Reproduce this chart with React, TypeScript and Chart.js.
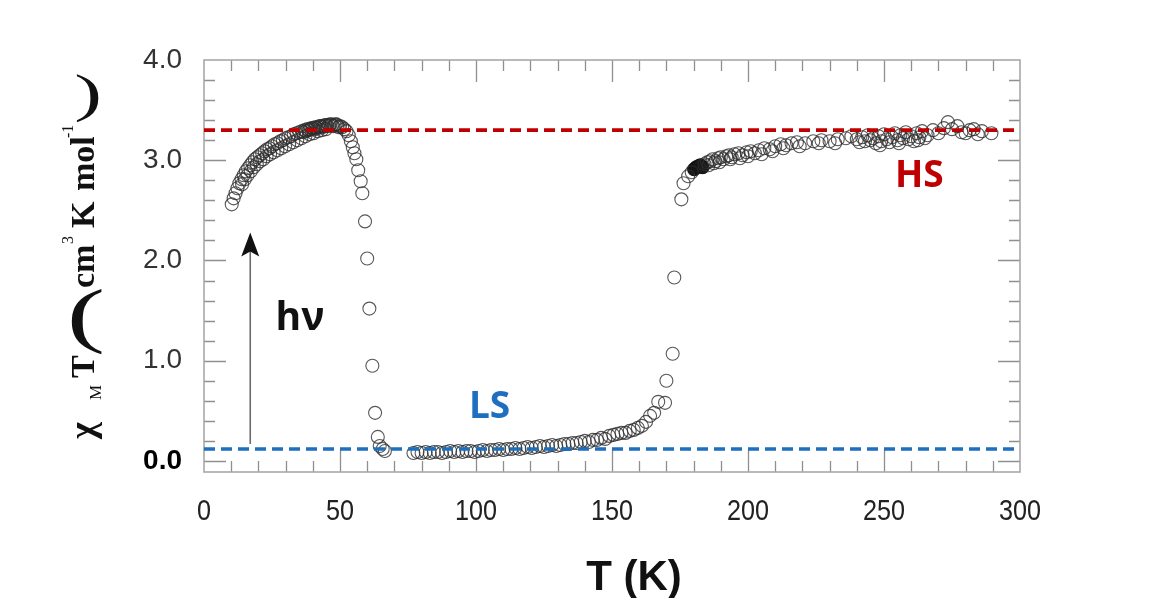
import React, { useEffect, useRef } from "react";
import { Chart, registerables } from "chart.js";

Chart.register(...registerables);

// ---- axis ticks / reference levels ----
const xTickValues = [0, 50, 100, 150, 200, 250, 300];
const yTickValues = [0, 1, 2, 3, 4];
const hsLevel = 3.3;
const lsLevel = 0.12;

// ---- photo-excited branch (after irradiation, hv) ----
const photoT = [
  10.2, 10.9, 11.6, 12.3, 13.0, 13.8, 14.6, 15.4, 16.2, 17.0, 17.8, 18.7, 19.6, 20.5, 21.4, 22.3,
  23.2, 24.1, 25.0, 26.0, 27.0, 28.0, 29.0, 30.0, 31.0, 32.0, 33.0, 34.0, 35.0, 36.0, 36.5, 37.0,
  37.5, 38.0, 38.5, 39.0, 39.5, 40.0, 40.5, 41.0, 41.5, 42.0, 42.5, 43.0, 43.5, 44.0, 44.5, 45.0,
  45.5, 46.0, 46.5, 47.0, 47.5, 48.0, 48.5, 49.0, 49.5, 50.0, 50.8, 51.6, 52.4, 53.2, 54.0, 54.7,
  55.3, 56.0, 56.7, 57.6, 58.2, 59.2, 60.0, 60.8, 61.9, 62.9, 63.9, 64.6, 65.7, 66.5,
];
const photoChi = [
  2.56, 2.62, 2.67, 2.72, 2.77, 2.81, 2.85, 2.89, 2.92, 2.95, 2.98, 3.01, 3.03, 3.05, 3.07, 3.09,
  3.11, 3.12, 3.14, 3.16, 3.17, 3.19, 3.2, 3.22, 3.23, 3.24, 3.26, 3.27, 3.28, 3.29, 3.28, 3.3,
  3.29, 3.31, 3.3, 3.31, 3.32, 3.32, 3.31, 3.33, 3.32, 3.33, 3.34, 3.34, 3.33, 3.34, 3.35, 3.35,
  3.34, 3.35, 3.36, 3.35, 3.34, 3.35, 3.36, 3.35, 3.33, 3.34, 3.33, 3.31, 3.29, 3.25, 3.19, 3.13,
  3.07, 3.01, 2.9, 2.79, 2.67, 2.39, 2.02, 1.52, 0.95, 0.48, 0.24, 0.15, 0.12, 0.1,
];
// second, slightly lower sweep of the same branch
const photo2T = [
  14.0, 15.0, 16.0, 17.2, 18.3, 19.4, 20.6, 21.8, 23.0, 24.3, 25.6, 27.0, 28.4, 29.8, 31.3, 32.8,
  34.3, 35.8, 37.3, 38.8, 40.3, 41.8, 43.3, 44.8,
];
const photo2Chi = [
  2.76, 2.81, 2.85, 2.89, 2.93, 2.96, 2.99, 3.01, 3.04, 3.06, 3.08, 3.1, 3.12, 3.14, 3.16, 3.18,
  3.2, 3.22, 3.24, 3.26, 3.27, 3.29, 3.3, 3.31,
];

// ---- thermal low-spin branch and transition ----
const lsT = [
  77, 78.5, 80, 81.5, 83, 84.5, 86, 87.5, 89, 90.5, 92, 93.5, 95, 96.5, 98, 99.5, 101, 102.5, 104,
  105.5, 107, 108.5, 110, 111.5, 113, 114.5, 116, 117.5, 119, 120.5, 122, 123.5, 125, 126.5, 128,
  129.5, 131, 132.5, 134, 135.5, 137, 138.5, 140, 141.5, 143, 144.5, 146, 147.5, 149, 150.5, 152,
  153.5, 155, 156.5, 158, 159.5, 161, 162.5, 164, 165.5, 167, 169.5, 170, 172.3, 172.9, 175.5, 176.3,
];
const lsChi = [
  0.08, 0.09, 0.08, 0.09, 0.08, 0.09, 0.09, 0.08, 0.09, 0.1, 0.09, 0.1, 0.09, 0.1, 0.1, 0.09, 0.1,
  0.11, 0.1, 0.11, 0.11, 0.12, 0.11, 0.12, 0.12, 0.13, 0.12, 0.13, 0.14, 0.13, 0.14, 0.15, 0.14,
  0.15, 0.16, 0.15, 0.16, 0.17, 0.17, 0.18, 0.18, 0.19, 0.2, 0.19, 0.21, 0.21, 0.23, 0.22, 0.25,
  0.26, 0.27, 0.28, 0.28, 0.3, 0.31, 0.33, 0.35, 0.39, 0.45, 0.48, 0.59, 0.58, 0.8, 1.07, 1.83,
  2.61, 2.77,
];

// ---- high-spin branch ----
const hsT = [
  178, 179.3, 184, 185, 186, 187, 188, 189, 190, 191, 192, 193, 194, 195, 196.5, 198, 199.5, 201,
  202.5, 204, 206, 208, 210, 212, 214, 216, 218, 221, 224, 227, 230, 233, 236, 238, 240, 241, 242,
  243, 244, 245, 246, 247, 248, 249, 250, 251, 252, 253, 254, 255, 256, 257, 258, 259, 260, 261,
  262, 263, 264, 266, 268, 270, 272, 273.5, 275, 277, 278.5, 280, 281.5, 283, 284.5, 286, 289.5,
  185.5, 187.5, 189.5, 193.5, 197, 200, 205, 209, 213, 219, 226, 232, 248.5, 255.5, 262.5, 265,
];
const hsChi = [
  2.84, 2.88, 2.96, 2.98, 2.99, 3.01, 2.99, 3.02, 3.03, 3.01, 3.04, 3.05, 3.03, 3.06, 3.07, 3.05,
  3.08, 3.09, 3.07, 3.1, 3.12, 3.11, 3.14, 3.16, 3.15, 3.17, 3.18, 3.17, 3.19, 3.2, 3.19, 3.21,
  3.22, 3.24, 3.21, 3.18, 3.23, 3.19, 3.25, 3.2, 3.22, 3.17, 3.24, 3.19, 3.26, 3.21, 3.18, 3.23,
  3.27, 3.2, 3.25, 3.22, 3.28, 3.21, 3.24, 3.19, 3.27, 3.23, 3.29, 3.25, 3.3, 3.27, 3.32, 3.38,
  3.31, 3.34, 3.28, 3.27, 3.3, 3.31, 3.26, 3.29, 3.27,
  2.95, 2.97, 2.98, 3.01, 3.02, 3.04, 3.06, 3.09, 3.12, 3.14, 3.17, 3.17, 3.15, 3.17, 3.2, 3.22,
];

// ---- filled (dark) points near 180 K ----
const filledT = [180.2, 181.0, 181.8, 182.5, 183.3];
const filledChi = [2.91, 2.93, 2.94, 2.95, 2.93];

const toPts = (xs: number[], ys: number[]) => xs.map((x, i) => ({ x, y: ys[i] }));

const SERIF = "'Liberation Serif', 'Times New Roman', serif";
const SANS = "'Liberation Sans', Arial, sans-serif";
const CAL = "'Open Sans', 'Noto Sans', sans-serif";

const decorPlugin = {
  id: "decor",
  beforeDatasetsDraw(chart: any) {
    const { ctx, chartArea: a, scales } = chart;
    const xs = scales.x;
    const ys = scales.y;
    ctx.save();
    // ticks (inward)
    ctx.strokeStyle = "#8f8f8f";
    ctx.lineWidth = 1.3;
    ctx.beginPath();
    for (let v = 10; v < 300; v += 10) {
      const px = Math.round(xs.getPixelForValue(v)) + 0.5;
      const len = v % 50 === 0 ? 22 : 11;
      ctx.moveTo(px, a.bottom);
      ctx.lineTo(px, a.bottom - len);
      ctx.moveTo(px, a.top);
      ctx.lineTo(px, a.top + len);
    }
    for (let k = 0; k < 20; k++) {
      const v = k * 0.2;
      const py = Math.round(ys.getPixelForValue(v)) + 0.5;
      const len = k % 5 === 0 ? 22 : 11;
      ctx.moveTo(a.left, py);
      ctx.lineTo(a.left + len, py);
      ctx.moveTo(a.right, py);
      ctx.lineTo(a.right - len, py);
    }
    ctx.stroke();
    // frame
    ctx.strokeStyle = "#a8a8a8";
    ctx.lineWidth = 1.6;
    ctx.strokeRect(a.left, a.top, a.right - a.left, a.bottom - a.top);

    // x tick labels (condensed look)
    ctx.fillStyle = "#222";
    ctx.font = `30px ${SANS}`;
    ctx.textAlign = "center";
    ctx.textBaseline = "middle";
    for (const v of xTickValues) {
      ctx.save();
      ctx.translate(xs.getPixelForValue(v), 512);
      ctx.scale(0.84, 1);
      ctx.fillText(String(v), 0, 0);
      ctx.restore();
    }
    ctx.restore();
  },
  afterDatasetsDraw(chart: any) {
    const { ctx, scales } = chart;
    const xs = scales.x;
    const ys = scales.y;
    ctx.save();
    // labels
    ctx.textAlign = "center";
    ctx.textBaseline = "middle";
    ctx.font = `bold 37px ${CAL}`;
    ctx.fillStyle = "#c00000";
    ctx.fillText("HS", xs.getPixelForValue(263), ys.getPixelForValue(2.84));
    ctx.fillStyle = "#1f6fc0";
    ctx.fillText("LS", xs.getPixelForValue(105), ys.getPixelForValue(0.53));
    ctx.fillStyle = "#111";
    ctx.font = `bold 39px ${CAL}`;
    ctx.fillText("hν", xs.getPixelForValue(35.3), ys.getPixelForValue(1.42));

    // arrow
    const ax = xs.getPixelForValue(17);
    const y0 = ys.getPixelForValue(0.17);
    const y1 = ys.getPixelForValue(2.28);
    ctx.strokeStyle = "#6a6a6a";
    ctx.lineWidth = 1.6;
    ctx.beginPath();
    ctx.moveTo(ax, y0);
    ctx.lineTo(ax, y1 + 12);
    ctx.stroke();
    ctx.fillStyle = "#111";
    ctx.beginPath();
    ctx.moveTo(ax, y1);
    ctx.lineTo(ax + 9, y1 + 24);
    ctx.lineTo(ax, y1 + 19);
    ctx.lineTo(ax - 9, y1 + 24);
    ctx.closePath();
    ctx.fill();

    // x axis title
    ctx.fillStyle = "#111";
    ctx.font = `bold 42px ${SANS}`;
    ctx.textAlign = "center";
    ctx.textBaseline = "middle";
    ctx.fillText("T (K)", 634, 578);

    // y axis title (rotated rich text)
    ctx.fillStyle = "#111";
    ctx.textAlign = "left";
    ctx.textBaseline = "alphabetic";
    const baseX = 94;
    const pieces: { t: string; at: number; size: number; dy: number; bold: boolean }[] = [
      { t: "χ", at: 439, size: 36, dy: 0, bold: true },
      { t: "M", at: 400, size: 17, dy: 7, bold: false },
      { t: "T", at: 378, size: 34, dy: 0, bold: true },
      { t: "cm", at: 288, size: 34, dy: 0, bold: true },
      { t: "3", at: 244, size: 16, dy: -21, bold: false },
      { t: "K", at: 228, size: 34, dy: 0, bold: true },
      { t: "mol", at: 191, size: 34, dy: 0, bold: true },
      { t: "-1", at: 138, size: 16, dy: -21, bold: false },
    ];
    for (const p of pieces) {
      ctx.save();
      ctx.translate(baseX, p.at);
      ctx.rotate(-Math.PI / 2);
      ctx.font = `${p.bold ? "bold " : ""}${p.size}px ${SERIF}`;
      ctx.fillText(p.t, 0, p.dy);
      ctx.restore();
    }
    // big parentheses
    const paren = (ch: string, cx: number, cy: number, h: number, sx: number) => {
      ctx.save();
      ctx.translate(cx, cy);
      ctx.scale(sx, 1);
      ctx.font = `${h}px ${SERIF}`;
      ctx.textAlign = "center";
      ctx.textBaseline = "middle";
      ctx.fillText(ch, 0, 0);
      ctx.restore();
    };
    paren("(", 86, 320, 72, 1.6);
    paren(")", 88, 97, 52, 1.6);
    ctx.restore();
  },
};

export default function App() {
  const ref = useRef<HTMLCanvasElement | null>(null);
  useEffect(() => {
    if (!ref.current) return;
    const pointStyle = {
      showLine: false,
      pointRadius: 6.5,
      pointHoverRadius: 6.5,
      pointBorderWidth: 1.1,
      pointBorderColor: "rgba(45,45,45,0.8)",
      pointBackgroundColor: "rgba(0,0,0,0)",
      order: 2,
    };
    const chart = new Chart(ref.current, {
      type: "scatter",
      data: {
        datasets: [
          { label: "photo", data: toPts(photoT, photoChi), ...pointStyle },
          { label: "photo2", data: toPts(photo2T, photo2Chi), ...pointStyle },
          { label: "LS", data: toPts(lsT, lsChi), ...pointStyle },
          { label: "HS", data: toPts(hsT, hsChi), ...pointStyle },
          {
            label: "filled",
            data: toPts(filledT, filledChi),
            ...pointStyle,
            pointBackgroundColor: "#1a1a1a",
            pointBorderColor: "#111",
          },
          {
            label: "HS level",
            data: [
              { x: 0, y: hsLevel },
              { x: 300, y: hsLevel },
            ],
            showLine: true,
            borderColor: "#c00000",
            borderWidth: 3.6,
            borderDash: [11, 6],
            pointRadius: 0,
            order: 0,
          },
          {
            label: "LS level",
            data: [
              { x: 0, y: lsLevel },
              { x: 300, y: lsLevel },
            ],
            showLine: true,
            borderColor: "#1f6fc0",
            borderWidth: 3.6,
            borderDash: [11, 6],
            pointRadius: 0,
            order: 0,
          },
        ],
      },
      options: {
        responsive: false,
        animation: false,
        events: [],
        layout: { padding: { left: 0, top: 60, right: 135, bottom: 0 } },
        plugins: { legend: { display: false }, tooltip: { enabled: false } },
        scales: {
          x: {
            type: "linear",
            min: 0,
            max: 300,
            afterBuildTicks: (s: any) => {
              s.ticks = xTickValues.map((v) => ({ value: v }));
            },
            afterFit: (s: any) => {
              s.height = 126;
            },
            grid: { display: false, drawTicks: false },
            border: { display: false },
            ticks: { display: false },
          },
          y: {
            type: "linear",
            min: -0.11,
            max: 4.0,
            afterBuildTicks: (s: any) => {
              s.ticks = yTickValues.map((v) => ({ value: v }));
            },
            afterFit: (s: any) => {
              s.width = 204;
            },
            grid: { display: false, drawTicks: false },
            border: { display: false },
            ticks: {
              padding: 22,
              autoSkip: false,
              callback: (v: any) => Number(v).toFixed(1),
              color: (c: any) => (c.tick && c.tick.value === 0 ? "#000" : "#333"),
              font: (c: any) => ({
                family: SANS,
                size: 28,
                weight: c.tick && c.tick.value === 0 ? "bold" : "normal",
              }),
            },
          },
        },
      },
      plugins: [decorPlugin],
    } as any);
    let alive = true;
    if ((document as any).fonts && (document as any).fonts.ready) {
      (document as any).fonts.ready.then(() => {
        if (alive) chart.draw();
      });
    }
    return () => {
      alive = false;
      chart.destroy();
    };
  }, []);
  return (
    <div style={{ position: "fixed", left: 0, top: 0, width: 1155, height: 598, background: "#fff" }}>
      <canvas ref={ref} width={1155} height={598} style={{ width: 1155, height: 598, display: "block" }} />
    </div>
  );
}
